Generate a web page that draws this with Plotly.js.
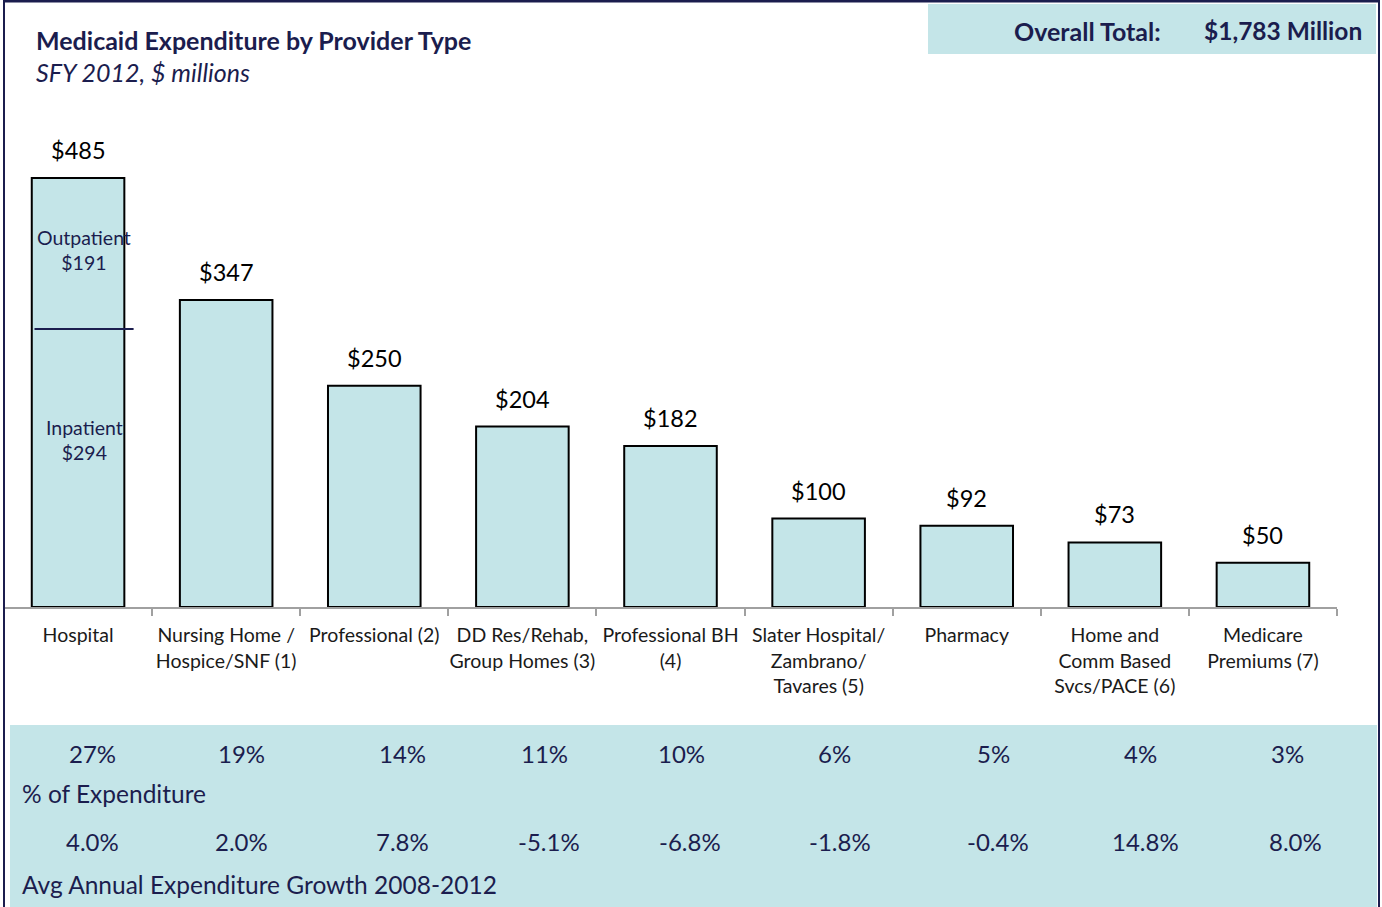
<!DOCTYPE html>
<html><head><meta charset="utf-8">
<script src="https://cdn.plot.ly/plotly-3.0.1.min.js"></script>
<style>html,body{margin:0;padding:0;background:#fff;}#chart{width:1382px;height:907px;}</style>
</head><body><div id="chart"></div>
<script>
// ---- data ----
const categories = ["Hospital","Nursing Home /<br>Hospice/SNF (1)","Professional (2)","DD Res/Rehab,<br>Group Homes (3)","Professional BH<br>(4)","Slater Hospital/<br>Zambrano/<br>Tavares (5)","Pharmacy","Home and<br>Comm Based<br>Svcs/PACE (6)","Medicare<br>Premiums (7)"];
const expenditure = [485,347,250,204,182,100,92,73,50];
const valueLabels = ["$485","$347","$250","$204","$182","$100","$92","$73","$50"];
const hospitalOutpatient = 191;
const hospitalInpatient = 294;
const pctOfExpenditure = ["27%","19%","14%","11%","10%","6%","5%","4%","3%"];
const avgGrowth = ["4.0%","2.0%","7.8%","-5.1%","-6.8%","-1.8%","-0.4%","14.8%","8.0%"];
const overallTotal = "$1,783 Million";

// ---- layout helpers (pixel -> paper) ----
const L=4, R=1337, T=100, B=607, W=1382, H=907;
const px = x => (x-L)/(R-L);
const py = y => (B-y)/(B-T);
const yMax = 573.2;

const navy = "#1b1d4e";
const cyan = "#c4e5e8";
const FONT = "Lato, 'Open Sans', sans-serif";

const pctShift = [14,15,28,22,11,16,27,26,25];
const growthShift = [14,15,28,27,19,21,31,31,33];

const annotations = [];
categories.forEach((c,i)=>{
  annotations.push({x:i, y:expenditure[i], xref:'x', yref:'y', text:valueLabels[i], showarrow:false,
    xanchor:'center', yanchor:'bottom', yshift:12, font:{family:FONT, size:23.5, color:'#000'}});
  annotations.push({x:i, y:py(753), xref:'x', yref:'paper', text:pctOfExpenditure[i], showarrow:false,
    xshift:pctShift[i], xanchor:'center', yanchor:'middle', font:{family:FONT, size:24, color:navy}});
  annotations.push({x:i, y:py(841), xref:'x', yref:'paper', text:avgGrowth[i], showarrow:false,
    xshift:growthShift[i], xanchor:'center', yanchor:'middle', font:{family:FONT, size:24, color:navy}});
});
// hospital split labels
annotations.push({x:0, y:py(250), xref:'x', yref:'paper', xshift:6, xanchor:'center', yanchor:'middle',
  text:"Outpatient<br>$"+hospitalOutpatient, showarrow:false, font:{family:FONT, size:19.5, color:navy}});
annotations.push({x:0, y:py(440), xref:'x', yref:'paper', xshift:6, xanchor:'center', yanchor:'middle',
  text:"Inpatient<br>$"+hospitalInpatient, showarrow:false, font:{family:FONT, size:19.5, color:navy}});
// titles
annotations.push({x:px(34), y:py(40), xref:'paper', yref:'paper', xanchor:'left', yanchor:'middle', showarrow:false,
  text:"<b>Medicaid Expenditure by Provider Type</b>", font:{family:FONT, size:25, color:navy}});
annotations.push({x:px(34), y:py(72), xref:'paper', yref:'paper', xanchor:'left', yanchor:'middle', showarrow:false,
  text:"<i>SFY 2012, $ millions</i>", font:{family:FONT, size:25, color:navy}});
annotations.push({x:px(1163), y:py(31), xref:'paper', yref:'paper', xanchor:'right', yanchor:'middle', showarrow:false,
  text:"<b>Overall Total:</b>", font:{family:FONT, size:25, color:navy}});
annotations.push({x:px(1364), y:py(31), xref:'paper', yref:'paper', xanchor:'right', yanchor:'middle', showarrow:false,
  text:"<b>"+overallTotal+"</b>", font:{family:FONT, size:24.5, color:navy}});
// table row labels
annotations.push({x:px(20), y:py(794), xref:'paper', yref:'paper', xanchor:'left', yanchor:'middle', showarrow:false,
  text:"% of Expenditure", font:{family:FONT, size:24.5, color:navy}});
annotations.push({x:px(20), y:py(884), xref:'paper', yref:'paper', xanchor:'left', yanchor:'middle', showarrow:false,
  text:"Avg Annual Expenditure Growth 2008-2012", font:{family:FONT, size:24.5, color:navy}});

const shapes = [
  {type:'rect', xref:'paper', yref:'paper', x0:px(928), x1:px(1376), y0:py(4), y1:py(54), fillcolor:cyan, line:{width:0}, layer:'below'},
  {type:'rect', xref:'paper', yref:'paper', x0:px(10), x1:px(1377), y0:py(725), y1:py(910), fillcolor:cyan, line:{width:0}, layer:'below'},
  {type:'line', xref:'paper', yref:'paper', x0:px(4), x1:px(4), y0:py(0), y1:py(910), line:{color:navy, width:2}},
  {type:'line', xref:'paper', yref:'paper', x0:px(3), x1:px(1380), y0:py(1), y1:py(1), line:{color:navy, width:3}},
  {type:'line', xref:'paper', yref:'paper', x0:px(1379), x1:px(1379), y0:py(0), y1:py(910), line:{color:navy, width:2}},
  {type:'line', xref:'x', yref:'paper', x0:-0.294, x1:0.375, y0:py(329), y1:py(329), line:{color:navy, width:2}}
];

const trace = {
  type:'bar', x:categories, y:expenditure,
  marker:{color:cyan, line:{color:'#000', width:2}},
  width:0.625, hoverinfo:'x+y'
};

const layout = {
  width:W, height:H,
  margin:{l:L, r:W-R, t:T, b:H-B, pad:0},
  paper_bgcolor:'#fff', plot_bgcolor:'rgba(0,0,0,0)',
  showlegend:false,
  xaxis:{type:'category', showline:true, linecolor:'#a0a0a0', linewidth:2, ticks:'outside', tickson:'boundaries',
    ticklen:7, tickcolor:'#a0a0a0', tickwidth:2, ticklabelstandoff:10, tickangle:0,
    tickfont:{family:FONT, size:19.5, color:'#1a1a1a'}, range:[-0.5,8.5], fixedrange:true, showgrid:false, zeroline:false},
  yaxis:{range:[0,yMax], visible:false, showgrid:false, zeroline:false, fixedrange:true},
  annotations:annotations, shapes:shapes
};

Plotly.newPlot('chart',[trace],layout,{displayModeBar:false, staticPlot:true});
</script></body></html>
